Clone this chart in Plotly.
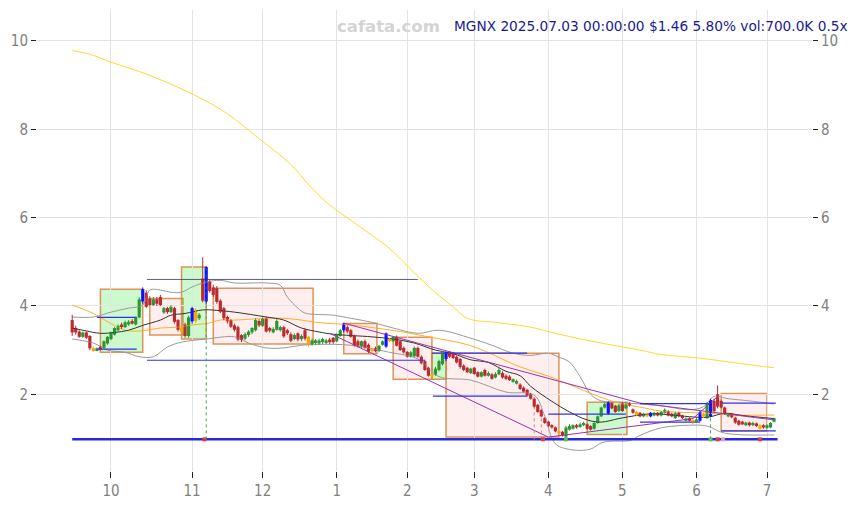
import plotly.graph_objects as go

# ---------------- data ----------------
opens = [3.68,3.50,3.42,3.30,3.40,3.32,3.05,3.00,3.08,3.05,
         3.15,3.25,3.35,3.45,3.58,3.52,3.58,3.66,3.58,3.74,
         4.10,4.30,4.17,4.02,4.15,4.20,3.85,3.95,3.86,3.95,
         3.68,3.50,3.58,3.32,3.65,3.90,3.72,4.62,4.10,4.55,
         4.42,4.40,4.12,3.95,3.75,3.68,3.56,3.52,3.34,3.26,
         3.34,3.40,3.45,3.66,3.55,3.72,3.50,3.40,3.46,3.45,
         3.52,3.45,3.36,3.25,3.38,3.25,3.45,3.30,3.14,3.16,
         3.15,3.18,3.16,3.24,3.28,3.20,3.32,3.45,3.52,3.45,
         3.32,3.20,3.08,3.20,3.12,3.02,3.04,2.98,3.12,3.08,
         3.25,3.20,3.30,3.20,3.05,2.96,2.85,2.86,3.05,2.85,
         2.75,2.60,2.46,2.44,2.55,2.68,2.80,2.95,2.92,2.85,
         2.80,2.65,2.60,2.48,2.60,2.50,2.40,2.55,2.42,2.45,
         2.38,2.45,2.48,2.42,2.40,2.28,2.24,2.22,2.15,2.10,
         2.00,1.90,1.76,1.64,1.46,1.38,1.30,1.25,1.16,1.15,
         1.04,1.20,1.22,1.30,1.26,1.30,1.32,1.28,1.22,1.35,
         1.50,1.70,1.56,1.80,1.74,1.62,1.80,1.68,1.80,1.66,
         1.60,1.58,1.50,1.56,1.50,1.52,1.58,1.52,1.58,1.62,
         1.56,1.46,1.58,1.52,1.40,1.46,1.42,1.38,1.40,1.55,
         1.46,1.50,1.85,2.00,1.85,1.70,1.50,1.56,1.47,1.40,
         1.38,1.30,1.36,1.30,1.34,1.30,1.30,1.24,1.25,1.38]
highs = [3.80,3.55,3.45,3.42,3.42,3.34,3.08,3.06,3.10,3.22,
         3.32,3.42,3.52,3.58,3.62,3.66,3.68,3.70,3.76,4.20,
         4.42,4.35,4.22,4.20,4.20,4.25,3.98,3.98,4.02,3.98,
         3.70,3.55,3.62,3.78,3.98,3.95,3.84,5.10,4.90,4.60,
         4.48,4.45,4.15,3.98,3.78,3.70,3.60,3.55,3.36,3.40,
         3.45,3.52,3.72,3.70,3.74,3.76,3.52,3.52,3.70,3.55,
         3.55,3.48,3.40,3.38,3.40,3.36,3.50,3.32,3.26,3.25,
         3.26,3.28,3.26,3.28,3.30,3.38,3.48,3.62,3.56,3.48,
         3.35,3.24,3.22,3.24,3.15,3.05,3.08,3.12,3.22,3.40,
         3.28,3.32,3.33,3.22,3.08,2.98,2.98,3.08,3.08,2.88,
         2.78,2.62,2.48,2.62,2.78,2.98,2.97,2.98,2.95,2.88,
         2.82,2.68,2.62,2.60,2.62,2.52,2.52,2.58,2.52,2.48,
         2.50,2.62,2.52,2.45,2.43,2.36,2.33,2.25,2.18,2.12,
         2.03,1.93,1.78,1.66,1.48,1.40,1.32,1.27,1.18,1.17,
         1.28,1.32,1.32,1.33,1.36,1.38,1.34,1.30,1.38,1.52,
         1.72,1.82,1.84,1.82,1.76,1.78,1.83,1.82,1.82,1.68,
         1.62,1.60,1.58,1.58,1.60,1.60,1.60,1.62,1.68,1.64,
         1.58,1.60,1.60,1.54,1.48,1.48,1.44,1.46,1.62,1.58,
         1.82,1.90,1.90,2.20,1.88,1.72,1.57,1.58,1.49,1.42,
         1.40,1.38,1.38,1.38,1.36,1.32,1.32,1.32,1.37,1.47]
lows = [3.32,3.35,3.28,3.28,3.25,3.00,2.96,2.98,2.99,3.03,
        3.12,3.22,3.33,3.42,3.48,3.50,3.55,3.58,3.56,3.72,
        4.05,3.95,4.00,4.00,4.00,4.00,3.82,3.82,3.84,3.60,
        3.42,3.38,3.28,3.28,3.60,3.62,3.68,4.08,4.05,4.30,
        4.20,4.05,3.84,3.68,3.60,3.50,3.42,3.20,3.18,3.22,
        3.30,3.36,3.42,3.52,3.52,3.40,3.40,3.38,3.44,3.42,
        3.28,3.34,3.18,3.22,3.20,3.20,3.22,3.08,3.10,3.12,
        3.12,3.14,3.14,3.14,3.14,3.18,3.30,3.40,3.38,3.28,
        3.08,3.06,3.05,3.03,2.93,2.92,2.95,2.95,3.10,3.05,
        3.18,3.18,3.08,2.98,2.92,2.83,2.83,2.84,2.83,2.68,
        2.53,2.40,2.38,2.42,2.52,2.65,2.75,2.82,2.80,2.70,
        2.58,2.52,2.48,2.46,2.44,2.38,2.38,2.40,2.40,2.33,
        2.36,2.43,2.35,2.32,2.30,2.26,2.22,2.10,2.04,1.95,
        1.88,1.70,1.58,1.48,1.33,1.26,1.22,1.14,1.08,1.04,
        0.96,1.18,1.20,1.22,1.24,1.28,1.20,1.18,1.20,1.33,
        1.48,1.68,1.54,1.66,1.58,1.60,1.60,1.66,1.72,1.56,
        1.50,1.48,1.48,1.48,1.48,1.50,1.50,1.50,1.56,1.50,
        1.48,1.44,1.48,1.44,1.38,1.38,1.32,1.36,1.38,1.46,
        1.44,1.48,1.58,1.68,1.68,1.53,1.48,1.46,1.33,1.29,
        1.30,1.28,1.27,1.28,1.26,1.18,1.22,1.22,1.23,1.36]
closes = [3.40,3.40,3.30,3.40,3.28,3.04,2.98,3.04,3.01,3.20,
          3.30,3.40,3.50,3.55,3.52,3.63,3.64,3.60,3.74,4.15,
          4.38,3.98,4.02,4.15,4.05,4.02,3.95,3.86,3.98,3.64,
          3.46,3.42,3.32,3.74,3.95,3.66,3.80,4.12,4.88,4.34,
          4.25,4.09,3.87,3.72,3.65,3.53,3.46,3.24,3.23,3.36,
          3.42,3.50,3.68,3.56,3.72,3.42,3.44,3.48,3.66,3.52,
          3.31,3.38,3.21,3.34,3.24,3.32,3.26,3.12,3.22,3.22,
          3.22,3.25,3.22,3.18,3.18,3.35,3.45,3.60,3.42,3.30,
          3.10,3.10,3.20,3.05,2.96,2.98,2.98,3.10,3.20,3.38,
          3.20,3.30,3.10,3.00,2.95,2.85,2.95,3.05,2.85,2.70,
          2.55,2.42,2.40,2.58,2.75,2.95,2.95,2.85,2.82,2.72,
          2.62,2.55,2.50,2.58,2.46,2.40,2.50,2.42,2.48,2.35,
          2.46,2.55,2.38,2.35,2.32,2.34,2.30,2.12,2.06,1.97,
          1.90,1.72,1.60,1.50,1.35,1.28,1.25,1.16,1.12,1.06,
          1.25,1.28,1.30,1.25,1.32,1.35,1.22,1.20,1.35,1.50,
          1.70,1.78,1.82,1.68,1.60,1.75,1.62,1.78,1.74,1.58,
          1.53,1.50,1.56,1.50,1.58,1.58,1.52,1.60,1.65,1.52,
          1.50,1.57,1.50,1.46,1.45,1.40,1.36,1.43,1.60,1.50,
          1.80,1.87,1.62,1.72,1.70,1.56,1.55,1.48,1.36,1.31,
          1.32,1.36,1.30,1.35,1.28,1.22,1.25,1.30,1.35,1.46]

blue_days = [20, 34, 38, 77, 89, 106, 152, 164, 178, 181]
orange_days = [6, 31, 35, 67, 85, 90, 102, 138, 160, 163, 176, 179, 195]

month_ticks = [11, 34, 54, 75, 95, 114, 135, 156, 177, 197]
month_labels = ["10", "11", "12", "1", "2", "3", "4", "5", "6", "7"]
price_ticks = [2, 4, 6, 8, 10]

ma_long_i = [0, 5, 11, 22, 36, 44, 52, 62, 67, 72, 77, 85, 90, 97, 103, 108, 112, 121, 130, 138, 150, 161, 167, 178, 189, 199]
ma_long_v = [9.78, 9.70, 9.52, 9.22, 8.72, 8.35, 7.85, 7.20, 6.75, 6.35, 6.05, 5.60, 5.30, 4.75, 4.30, 3.98, 3.72, 3.62, 3.52, 3.36, 3.16, 3.00, 2.90, 2.82, 2.70, 2.60]

ma_mid_i = [0, 6, 11, 15, 18, 21, 25, 30, 34, 38, 42, 46, 55, 60, 65, 69, 74, 79, 86, 93, 101, 113, 127, 135, 141, 149, 155, 161, 167, 180, 189, 199]
ma_mid_v = [4.02, 3.83, 3.60, 3.45, 3.43, 3.45, 3.50, 3.52, 3.57, 3.60, 3.68, 3.68, 3.72, 3.72, 3.68, 3.63, 3.60, 3.57, 3.50, 3.42, 3.30, 3.10, 2.62, 2.41, 2.22, 1.96, 1.80, 1.71, 1.62, 1.57, 1.53, 1.53]

ma_short_i = [0, 3, 8, 12, 16, 20, 25, 28, 32, 37, 41, 46, 55, 60, 65, 70, 74, 85, 91, 97, 103, 108, 113, 118, 123, 127, 130, 136, 141, 146, 150, 155, 160, 165, 170, 180, 185, 190, 199]
ma_short_v = [3.50, 3.45, 3.38, 3.40, 3.45, 3.56, 3.68, 3.79, 3.83, 3.91, 3.90, 3.86, 3.75, 3.68, 3.50, 3.41, 3.36, 3.30, 3.25, 3.16, 3.00, 2.92, 2.78, 2.72, 2.52, 2.42, 2.18, 1.84, 1.60, 1.42, 1.37, 1.45, 1.52, 1.56, 1.53, 1.48, 1.57, 1.52, 1.45]

band_up_i = [0, 6, 11, 16, 20, 22, 25, 28, 31, 34, 38, 42, 46, 55, 59, 61, 64, 66, 74, 79, 85, 91, 98, 104, 113, 119, 125, 130, 135, 138, 141, 144, 147, 150, 155, 161, 167, 175, 179, 182, 186, 192, 199]
band_up_v = [3.75, 3.75, 3.86, 3.95, 4.02, 4.36, 4.36, 4.31, 4.31, 4.43, 4.54, 4.58, 4.52, 4.52, 4.47, 4.20, 3.95, 3.84, 3.79, 3.72, 3.63, 3.50, 3.38, 3.45, 3.27, 3.11, 2.93, 2.88, 2.93, 2.84, 2.73, 2.40, 2.00, 1.85, 1.82, 1.78, 1.74, 1.65, 1.72, 1.95, 1.90, 1.85, 1.78]

band_lo_i = [0, 6, 10, 15, 19, 23, 27, 31, 38, 46, 50, 55, 60, 65, 70, 79, 90, 98, 104, 113, 123, 131, 134, 137, 142, 147, 150, 153, 158, 161, 167, 175, 180, 185, 199]
band_lo_v = [3.25, 3.16, 3.00, 2.95, 2.85, 2.85, 3.07, 3.18, 3.25, 3.30, 3.16, 3.05, 3.05, 3.11, 3.13, 3.11, 2.95, 2.80, 2.40, 2.32, 2.05, 1.98, 1.50, 0.88, 0.74, 0.76, 0.90, 0.94, 0.95, 1.07, 1.24, 1.30, 1.28, 1.12, 1.08]

box_start = [8, 22, 31, 40, 77, 91, 102, 106, 146, 184]
box_end = [20, 31.4, 38, 68.3, 86.4, 102, 106, 138, 157.3, 197]
box_low = [2.95, 3.34, 3.25, 3.14, 2.92, 2.34, 2.34, 1.03, 1.09, 1.17]
box_high = [4.38, 4.17, 4.88, 4.40, 3.60, 3.29, 2.93, 2.93, 1.82, 2.02]
box_up = [True, False, True, False, False, False, True, False, True, False]

level_start = [7, 7, 21.2, 102, 102.3, 135, 161, 161, 184, 184]
level_end = [18.3, 18.3, 100, 129, 129, 157, 181, 178, 199.5, 199.5]
level_value = [3.74, 3.02, 2.77, 2.93, 1.96, 1.55, 1.79, 1.37, 1.80, 1.17]

resist_start, resist_end, resist_value = 21.2, 98, 4.60
floor_start, floor_end, floor_value = 0, 200, 0.98

trend_x0 = [77, 161, 73, 135, 176]
trend_y0 = [3.61, 1.80, 3.38, 1.03, 1.45]
trend_x1 = [161, 199, 135, 176, 183]
trend_y1 = [1.80, 1.42, 1.03, 1.45, 1.95]

signal_up_days = [38, 181]
signal_up_top = [4.88, 1.87]
signal_dn_days = [131, 133]
signal_dn_top = [1.72, 1.60]

mark_red_days = [37.5, 133.5, 183, 195]
mark_green_days = [140, 181]
mark_pink_days = [184.5]

title_text = "MGNX 2025.07.03 00:00:00 $1.46 5.80% vol:700.0K 0.5x"

# ---------------- figure ----------------
RED = "#bd2a2e"
GREEN = "#2c9632"
BLUE = "#1010ff"
ORANGE = "#ffa500"

fig = go.Figure()

# boxes
for s, e, lo, hi, up in zip(box_start, box_end, box_low, box_high, box_up):
    fig.add_shape(type="rect", xref="x", yref="y", x0=s, x1=e, y0=lo, y1=hi,
                  fillcolor="rgba(0,230,0,0.20)" if up else "rgba(255,120,120,0.13)",
                  line=dict(color="rgba(215,130,60,0.85)", width=1.5), layer="below")

# lines (indicators)
fig.add_trace(go.Scatter(x=ma_long_i, y=ma_long_v, mode="lines", line=dict(color="#ffd21a", width=0.9, shape="spline"), hoverinfo="skip"))
fig.add_trace(go.Scatter(x=band_up_i, y=band_up_v, mode="lines", line=dict(color="#9a9a9a", width=1, shape="spline"), hoverinfo="skip"))
fig.add_trace(go.Scatter(x=band_lo_i, y=band_lo_v, mode="lines", line=dict(color="#9a9a9a", width=1, shape="spline"), hoverinfo="skip"))
fig.add_trace(go.Scatter(x=ma_mid_i, y=ma_mid_v, mode="lines", line=dict(color="#ffae2a", width=1, shape="spline"), hoverinfo="skip"))
fig.add_trace(go.Scatter(x=ma_short_i, y=ma_short_v, mode="lines", line=dict(color="#333333", width=1, shape="spline"), hoverinfo="skip"))

# trend lines
for a, b, c, d in zip(trend_x0, trend_y0, trend_x1, trend_y1):
    fig.add_trace(go.Scatter(x=[a, c], y=[b, d], mode="lines", line=dict(color="#a030b0", width=1), hoverinfo="skip"))

# level lines
for s, e, v in zip(level_start, level_end, level_value):
    fig.add_trace(go.Scatter(x=[s, e], y=[v, v], mode="lines", line=dict(color="#3030f0", width=1.2), hoverinfo="skip"))
fig.add_trace(go.Scatter(x=[resist_start, resist_end], y=[resist_value, resist_value], mode="lines", line=dict(color="#333366", width=0.8), hoverinfo="skip"))
fig.add_trace(go.Scatter(x=[floor_start, floor_end], y=[floor_value, floor_value], mode="lines", line=dict(color="#2828dd", width=2.5), hoverinfo="skip"))

# signal verticals
for d, t in zip(signal_up_days, signal_up_top):
    fig.add_trace(go.Scatter(x=[d, d], y=[floor_value, t], mode="lines", line=dict(color="#3cb03c", width=1, dash="dot"), hoverinfo="skip"))
for d, t in zip(signal_dn_days, signal_dn_top):
    fig.add_trace(go.Scatter(x=[d, d], y=[floor_value, t], mode="lines", line=dict(color="#e08080", width=1, dash="dot"), hoverinfo="skip"))

# candles
n = len(closes)
groups = {RED: [], GREEN: [], BLUE: [], ORANGE: []}
for i in range(n):
    if i in blue_days:
        groups[BLUE].append(i)
    elif i in orange_days:
        groups[ORANGE].append(i)
    elif closes[i] >= opens[i]:
        groups[GREEN].append(i)
    else:
        groups[RED].append(i)

for col, idx in groups.items():
    wx, wy = [], []
    for i in idx:
        wx += [i, i, None]
        wy += [lows[i], highs[i], None]
    fig.add_trace(go.Scatter(x=wx, y=wy, mode="lines", line=dict(color=col, width=1), hoverinfo="skip"))
    fig.add_trace(go.Bar(x=idx, base=[opens[i] for i in idx],
                         y=[closes[i] - opens[i] for i in idx],
                         width=0.9, marker=dict(color=col, line=dict(width=0)), hoverinfo="skip"))

# bottom markers
fig.add_trace(go.Scatter(x=mark_red_days, y=[floor_value] * len(mark_red_days), mode="markers",
                         marker=dict(symbol="square", size=4, color="#d04050"), hoverinfo="skip"))
fig.add_trace(go.Scatter(x=mark_green_days, y=[floor_value] * len(mark_green_days), mode="markers",
                         marker=dict(symbol="square", size=4, color="#50c060"), hoverinfo="skip"))
fig.add_trace(go.Scatter(x=mark_pink_days, y=[floor_value] * len(mark_pink_days), mode="markers",
                         marker=dict(symbol="square", size=4, color="#e0a0b0"), hoverinfo="skip"))

# right axis anchor trace
fig.add_trace(go.Scatter(x=[0], y=[closes[0]], yaxis="y2", mode="markers", marker=dict(opacity=0), hoverinfo="skip"))

yr = [0.263, 10.70]
tickfont = dict(family="Liberation Sans Narrow, DejaVu Sans Condensed, sans-serif", size=15, color="#808080")
fig.update_layout(
    width=860, height=505,
    margin=dict(l=37, r=48, t=10, b=34, autoexpand=False),
    paper_bgcolor="white", plot_bgcolor="white",
    showlegend=False, barmode="overlay",
    xaxis=dict(range=[-9.98, 209.76], tickvals=month_ticks, ticktext=month_labels, automargin=False,
               showgrid=True, gridcolor="#e3e3e3", gridwidth=1, zeroline=False,
               ticks="outside", ticklen=6, tickcolor="#222", tickfont=tickfont, showline=False),
    yaxis=dict(range=yr, tickvals=price_ticks, showgrid=True, gridcolor="#e3e3e3", gridwidth=1, automargin=False,
               zeroline=False, ticks="outside", ticklen=5, tickcolor="#222", tickfont=tickfont, showline=False),
    yaxis2=dict(range=yr, tickvals=price_ticks, overlaying="y", side="right", showgrid=False, automargin=False,
                zeroline=False, ticks="outside", ticklen=5, tickcolor="#222", tickfont=tickfont, showline=False),
)

fig.add_annotation(text="cafata.com", xref="paper", yref="paper", x=0.454, y=0.965, yanchor="middle",
                   showarrow=False, font=dict(family="DejaVu Sans", size=16.5, color="#d4d4d4", weight="bold"))
fig.add_annotation(text=title_text, xref="paper", yref="paper", x=1.049, y=0.965, xanchor="right", yanchor="middle",
                   showarrow=False, font=dict(family="DejaVu Sans", size=13.7, color="#1a1a96"))

fig.write_html("out.html", config={"displayModeBar": False},
               post_script="document.body.style.margin='0px';")
